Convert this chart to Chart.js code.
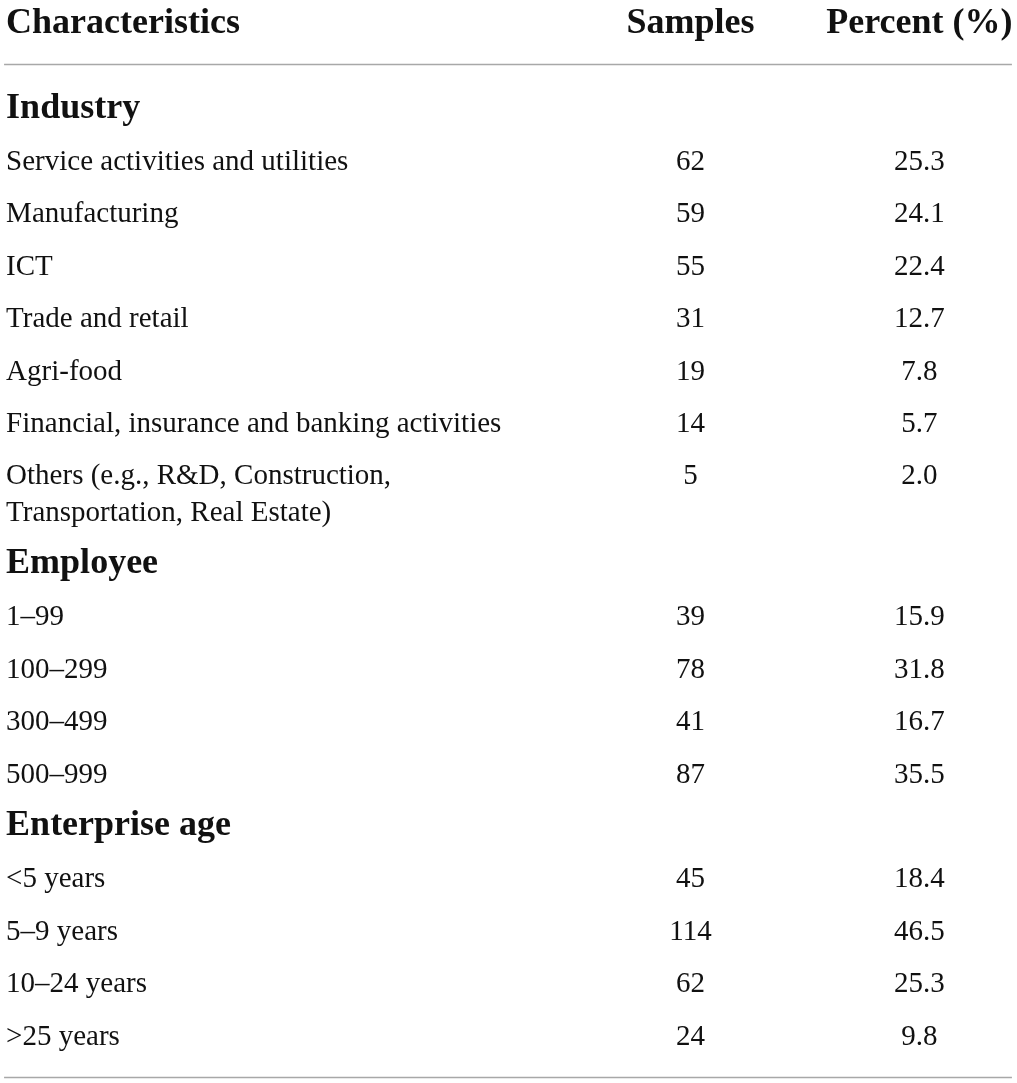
<!DOCTYPE html>
<html>
<head>
	<title>Sample characteristics</title>
	<script src="https://cdn.jsdelivr.net/npm/chart.js@4.4.1/dist/chart.umd.min.js"></script>
	<style>
		body { margin: 0; background: #fff; }
		#wrap { width: 1017px; height: 1083px; }
	</style>
</head>
<body>
	<div id="wrap"><canvas id="myChart"></canvas></div>
	<script>
		const columnHeaders = ["Characteristics", "Samples", "Percent (%)"];
		const sectionNames = ["Industry", "Employee", "Enterprise age"];

		const industryLabels = ["Service activities and utilities", "Manufacturing", "ICT", "Trade and retail", "Agri-food",
			"Financial, insurance and banking activities",
			["Others (e.g., R&D, Construction,", "Transportation, Real Estate)"]];
		const industrySamples = [62, 59, 55, 31, 19, 14, 5];
		const industryPercent = [25.3, 24.1, 22.4, 12.7, 7.8, 5.7, 2.0];

		const employeeLabels = ["1–99", "100–299", "300–499", "500–999"];
		const employeeSamples = [39, 78, 41, 87];
		const employeePercent = [15.9, 31.8, 16.7, 35.5];

		const ageLabels = ["<5 years", "5–9 years", "10–24 years", ">25 years"];
		const ageSamples = [45, 114, 62, 24];
		const agePercent = [18.4, 46.5, 25.3, 9.8];

		// layout: x anchors of columns (fraction of width), row units on y
		const COL_X = [0.006, 0.679, 0.904];
		const HEADER_Y = -2.61;
		const TOP_RULE_Y = -2.02;
		const EXTRA_LINE = 0.69;
		const BODY_FONT = "29px 'Liberation Serif', serif";
		const BOLD_FONT = "bold 36px 'Liberation Serif', serif";
		const HEAD_FONT = "bold 36px 'Liberation Serif', serif";

		// build the rows, one unit per row, wrapped labels get extra space
		const sections = [
			[industryLabels, industrySamples, industryPercent],
			[employeeLabels, employeeSamples, employeePercent],
			[ageLabels, ageSamples, agePercent]
		];
		let rows = [];
		let v = -1;
		sections.forEach((sec, s) => {
			rows.push({ lines: [sectionNames[s]], y: v, bold: true });
			v++;
			sec[0].forEach((label, i) => {
				const lines = Array.isArray(label) ? label : [label];
				rows.push({ lines: lines, y: v, samples: sec[1][i], percent: sec[2][i] });
				v += 1 + (lines.length - 1) * EXTRA_LINE;
			});
		});
		const bottomRule = v - 1 + 0.61;

		const valueRows = rows.filter(r => r.samples !== undefined);

		const tablePlugin = {
			id: "tableText",
			afterDatasetsDraw(chart) {
				const ctx = chart.ctx;
				const x = chart.scales.x, y = chart.scales.y;
				ctx.save();
				ctx.fillStyle = "#111";
				ctx.textBaseline = "alphabetic";
				const step = y.getPixelForValue(EXTRA_LINE) - y.getPixelForValue(0);
				chart.data.datasets.forEach((ds, di) => {
					const meta = chart.getDatasetMeta(di);
					meta.data.forEach((el, i) => {
						const d = ds.data[i];
						ctx.font = d.font;
						ctx.textAlign = d.align;
						d.lines.forEach((line, k) => ctx.fillText(line, el.x, el.y + k * step));
					});
				});
				// top and bottom rules
				ctx.strokeStyle = "#a8a8a8";
				ctx.lineWidth = 1.5;
				[TOP_RULE_Y, bottomRule].forEach(r => {
					const py = Math.round(y.getPixelForValue(r)) + 0.5;
					ctx.beginPath();
					ctx.moveTo(x.getPixelForValue(0.004), py);
					ctx.lineTo(x.getPixelForValue(0.995), py);
					ctx.stroke();
				});
				ctx.restore();
			}
		};

		new Chart("myChart", {
			type: "scatter",
			data: {
				datasets: [{
					label: "Header",
					data: columnHeaders.map((h, i) => ({ x: COL_X[i], y: HEADER_Y, lines: [h], font: HEAD_FONT, align: i === 0 ? "left" : "center" }))
				}, {
					label: columnHeaders[0],
					data: rows.map(r => ({ x: COL_X[0], y: r.y, lines: r.lines, font: r.bold ? BOLD_FONT : BODY_FONT, align: "left" }))
				}, {
					label: columnHeaders[1],
					data: valueRows.map(r => ({ x: COL_X[1], y: r.y, lines: [String(r.samples)], font: BODY_FONT, align: "center" }))
				}, {
					label: columnHeaders[2],
					data: valueRows.map(r => ({ x: COL_X[2], y: r.y, lines: [r.percent.toFixed(1)], font: BODY_FONT, align: "center" }))
				}]
			},
			options: {
				responsive: true,
				maintainAspectRatio: false,
				animation: false,
				layout: { padding: 0 },
				elements: { point: { radius: 0, hoverRadius: 0 } },
				plugins: { legend: { display: false }, tooltip: { enabled: false } },
				scales: {
					x: { type: "linear", min: 0, max: 1, display: false },
					y: { type: "linear", min: -3.244, max: 17.424, reverse: true, display: false }
				}
			},
			plugins: [tablePlugin]
		});
	</script>
</body>
</html>
